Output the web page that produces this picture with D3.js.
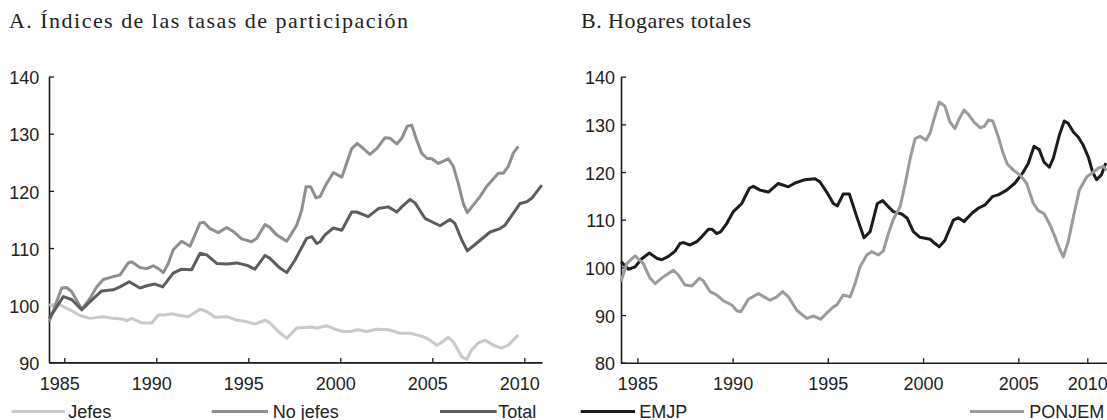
<!DOCTYPE html>
<html><head><meta charset="utf-8">
<script src="https://cdn.jsdelivr.net/npm/d3@7"></script>
<style>body{margin:0;background:#fff}svg{display:block}</style>
</head><body><svg id="c" width="1107" height="420"></svg>
<script>
// ---- tick labels ----
const xTickYears = [1985, 1990, 1995, 2000, 2005, 2010];
const yTicksA = [90, 100, 110, 120, 130, 140];
const yTicksB = [80, 90, 100, 110, 120, 130, 140];

// ---- Panel A: Índices de las tasas de participación ([año, índice]) ----
const jefesA = [[1984.18,100.0],[1984.67,100.2],[1985.31,99.2],[1985.85,98.2],[1986.40,97.7],[1987.12,98.0],[1987.66,97.7],[1988.12,97.6],[1988.39,97.3],[1988.66,97.7],[1989.21,96.9],[1989.75,96.9],[1990.11,98.3],[1990.47,98.3],[1990.84,98.5],[1991.29,98.2],[1991.74,98.0],[1992.38,99.3],[1992.74,98.9],[1993.19,97.9],[1993.83,98.0],[1994.37,97.4],[1994.91,97.1],[1995.36,96.7],[1995.91,97.4],[1996.18,96.9],[1996.63,95.4],[1997.09,94.2],[1997.63,96.0],[1998.45,96.2],[1998.72,96.0],[1999.26,96.4],[1999.71,95.8],[2000.16,95.4],[2000.53,95.4],[2000.98,95.7],[2001.43,95.4],[2001.98,95.8],[2002.61,95.7],[2003.24,95.1],[2003.79,95.1],[2004.51,94.5],[2004.88,93.9],[2005.24,93.0],[2005.42,93.3],[2005.87,94.4],[2006.14,93.6],[2006.60,91.0],[2006.87,90.5],[2007.14,92.2],[2007.50,93.4],[2007.86,93.9],[2008.32,93.0],[2008.77,92.5],[2009.13,93.0],[2009.67,94.8]];
const noJefesA = [[1984.18,97.1],[1984.86,103.0],[1985.13,103.1],[1985.40,102.4],[1985.95,99.3],[1986.40,101.2],[1986.76,103.2],[1987.12,104.5],[1987.66,105.0],[1988.03,105.3],[1988.48,107.4],[1988.66,107.6],[1989.11,106.6],[1989.48,106.4],[1989.84,106.9],[1990.11,106.4],[1990.38,105.7],[1990.65,107.3],[1990.92,109.7],[1991.38,111.2],[1991.83,110.3],[1992.38,114.4],[1992.59,114.5],[1992.92,113.4],[1993.37,112.7],[1993.83,113.6],[1994.18,112.9],[1994.64,111.6],[1995.18,111.1],[1995.46,111.7],[1995.91,114.1],[1996.14,113.7],[1996.54,112.3],[1997.09,111.2],[1997.63,114.0],[1997.90,116.6],[1998.14,120.7],[1998.39,120.7],[1998.68,118.8],[1998.90,119.0],[1999.17,120.8],[1999.62,123.2],[2000.08,122.4],[2000.62,127.4],[2000.92,128.3],[2001.61,126.4],[2001.98,127.4],[2002.43,129.3],[2002.70,129.2],[2003.07,128.2],[2003.34,129.2],[2003.64,131.3],[2003.88,131.5],[2004.15,128.9],[2004.42,126.6],[2004.70,125.7],[2004.97,125.6],[2005.33,124.8],[2005.87,125.6],[2006.14,124.3],[2006.41,121.3],[2006.68,117.8],[2006.90,116.2],[2007.59,119.0],[2007.96,120.8],[2008.59,123.1],[2008.86,123.1],[2009.13,124.3],[2009.40,126.6],[2009.67,127.8]];
const totalA = [[1984.18,97.7],[1984.95,101.5],[1985.40,101.0],[1985.95,99.2],[1986.49,100.9],[1987.03,102.5],[1987.66,102.7],[1988.03,103.2],[1988.53,104.1],[1989.11,103.0],[1989.48,103.4],[1989.93,103.7],[1990.35,103.2],[1990.92,105.6],[1991.38,106.3],[1991.92,106.2],[1992.38,109.1],[1992.74,108.8],[1993.28,107.3],[1993.83,107.2],[1994.37,107.4],[1994.91,107.0],[1995.36,106.3],[1995.91,108.7],[1996.18,108.2],[1996.72,106.5],[1997.09,105.7],[1997.54,107.9],[1998.17,111.7],[1998.45,112.0],[1998.72,110.8],[1998.90,111.1],[1999.17,112.3],[1999.62,113.5],[2000.08,113.1],[2000.62,116.3],[2000.89,116.3],[2001.52,115.5],[2002.07,116.9],[2002.61,117.2],[2003.07,116.3],[2003.34,117.2],[2003.79,118.5],[2004.06,117.9],[2004.60,115.2],[2004.97,114.6],[2005.42,113.9],[2005.96,115.0],[2006.23,114.3],[2006.60,111.4],[2006.90,109.5],[2007.50,111.1],[2008.14,112.8],[2008.68,113.4],[2008.95,114.0],[2009.77,117.8],[2010.13,118.1],[2010.40,118.7],[2010.95,121.0]];

// ---- Panel B: Hogares totales ([año, índice]) ----
const emjpB = [[1984.14,101.2],[1984.53,99.6],[1984.88,100.1],[1985.23,101.8],[1985.63,103.0],[1986.02,101.9],[1986.28,101.6],[1986.63,102.3],[1986.98,103.4],[1987.24,105.0],[1987.41,105.2],[1987.77,104.7],[1988.12,105.4],[1988.38,106.4],[1988.73,108.0],[1988.91,108.0],[1989.17,107.1],[1989.38,107.5],[1989.69,109.2],[1990.04,111.7],[1990.48,113.4],[1990.88,116.6],[1991.09,117.0],[1991.44,116.2],[1991.88,115.8],[1992.40,117.6],[1992.93,116.9],[1993.28,117.7],[1993.80,118.4],[1994.33,118.6],[1994.59,117.9],[1994.94,115.8],[1995.29,113.4],[1995.50,112.9],[1995.81,115.4],[1996.13,115.4],[1996.52,110.6],[1996.90,106.2],[1997.22,107.5],[1997.60,113.4],[1997.88,114.0],[1998.18,112.7],[1998.44,111.7],[1998.88,111.2],[1999.17,110.3],[1999.49,107.5],[1999.84,106.3],[2000.37,105.9],[2000.63,105.0],[2000.85,104.3],[2001.15,105.7],[2001.59,109.9],[2001.85,110.4],[2002.15,109.6],[2002.55,111.3],[2002.90,112.4],[2003.25,113.1],[2003.66,114.9],[2003.95,115.2],[2004.39,116.2],[2004.83,117.7],[2005.36,120.0],[2005.72,121.8],[2006.14,125.4],[2006.52,124.7],[2006.86,122.1],[2007.25,121.0],[2007.54,122.9],[2007.97,127.7],[2008.33,130.7],[2008.62,130.2],[2008.99,128.4],[2009.35,127.3],[2009.71,125.6],[2010.07,123.2],[2010.39,120.0],[2010.68,118.4],[2011.04,119.4],[2011.36,121.9]];
const ponjemB = [[1984.14,97.0],[1984.44,100.8],[1984.88,102.4],[1985.31,100.8],[1985.67,97.7],[1985.93,96.6],[1986.36,98.0],[1986.89,99.4],[1987.15,98.4],[1987.50,96.3],[1987.86,96.1],[1988.25,97.7],[1988.46,97.2],[1988.82,94.9],[1989.17,94.2],[1989.51,93.0],[1989.96,92.1],[1990.22,90.9],[1990.43,90.7],[1990.83,93.3],[1991.35,94.5],[1991.97,93.1],[1992.32,93.8],[1992.63,94.9],[1992.93,93.8],[1993.37,91.0],[1993.89,89.3],[1994.24,89.8],[1994.63,89.1],[1994.94,90.4],[1995.29,91.7],[1995.47,92.1],[1995.81,94.2],[1996.17,93.8],[1996.43,96.6],[1996.69,100.1],[1997.04,102.6],[1997.30,103.3],[1997.65,102.6],[1997.91,103.4],[1998.18,107.1],[1998.44,110.1],[1998.79,112.7],[1999.05,117.3],[1999.32,122.8],[1999.58,127.0],[1999.84,127.5],[2000.16,126.7],[2000.37,128.2],[2000.58,131.2],[2000.85,134.7],[2001.15,133.8],[2001.41,130.5],[2001.67,129.1],[2001.90,131.2],[2002.15,133.0],[2002.38,132.1],[2002.67,130.5],[2002.99,129.3],[2003.22,129.6],[2003.43,130.9],[2003.66,130.7],[2003.95,127.4],[2004.18,124.2],[2004.42,121.7],[2004.74,120.4],[2005.12,119.4],[2005.61,117.6],[2006.09,113.4],[2006.45,111.9],[2006.86,111.3],[2007.30,108.9],[2007.66,106.4],[2007.97,104.0],[2008.26,102.2],[2008.62,105.4],[2008.99,110.6],[2009.42,116.2],[2009.96,119.0],[2010.32,119.7],[2010.80,120.8],[2011.17,121.2],[2011.43,120.4]];

const seriesA = [
  {name: "Jefes", data: jefesA, color: "#c9c9c9"},
  {name: "No jefes", data: noJefesA, color: "#8f8f8f"},
  {name: "Total", data: totalA, color: "#5d5d5d"}
];
const seriesB = [
  {name: "EMJP", data: emjpB, color: "#1c1c1c"},
  {name: "PONJEM", data: ponjemB, color: "#9b9b9b"}
];

const svg = d3.select("#c");
svg.append("rect").attr("width", 1107).attr("height", 420).attr("fill", "#fff");

const xA = d3.scaleLinear().domain([1984.17, 2010.96]).range([49, 542]);
const yA = d3.scaleLinear().domain([90, 140]).range([362.4, 76.5]);
const xB = d3.scaleLinear().domain([1984.14, 2005, 2010, 2011.45]).range([621, 1018.3, 1087.3, 1107]);
const yB = d3.scaleLinear().domain([80, 140]).range([362.7, 76.7]);

function styleAxis(g) {
  g.select(".domain").attr("stroke", "#1a1a1a").attr("stroke-width", 1.6);
  g.selectAll(".tick line").attr("stroke", "#1a1a1a").attr("stroke-width", 1.3);
  g.selectAll(".tick text").attr("fill", "#222").style("font-family", "'Liberation Sans', Arial, sans-serif").style("font-size", "18px");
  g.attr("font-family", null).attr("font-size", null);
}

function panel(x, y, yTicks, series, yPad, xLabelShift) {
  const gx = svg.append("g").attr("transform", `translate(0,${y.range()[0]})`)
    .call(d3.axisBottom(x).tickValues(xTickYears).tickFormat(d3.format("d")).tickSize(-4.5).tickSizeOuter(0).tickPadding(14.8));
  styleAxis(gx);
  gx.selectAll(".tick text").attr("dx", xLabelShift);
  const gy = svg.append("g").attr("transform", `translate(${x.range()[0]},0)`)
    .call(d3.axisLeft(y).tickValues(yTicks).tickSize(-5).tickSizeOuter(0).tickPadding(yPad));
  styleAxis(gy);
  gy.selectAll(".tick text").attr("dy", "0.4em");
  const line = d3.line().x(d => x(d[0])).y(d => y(d[1]));
  series.forEach(s => {
    svg.append("path").datum(s.data).attr("d", line)
      .attr("fill", "none").attr("stroke", s.color).attr("stroke-width", 3)
      .attr("stroke-linejoin", "round").attr("stroke-linecap", "butt");
  });
}

panel(xA, yA, yTicksA, seriesA, 9.7, -5);
panel(xB, yB, yTicksB, seriesB, 6, 0);

// titles
svg.append("text").attr("x", 9).attr("y", 27.5)
  .style("font-family", "'Liberation Serif', 'Times New Roman', serif").style("font-size", "22px").attr("fill", "#222")
  .attr("textLength", 399).attr("lengthAdjust", "spacing")
  .text("A. Índices de las tasas de participación");
svg.append("text").attr("x", 581).attr("y", 27.5)
  .style("font-family", "'Liberation Serif', 'Times New Roman', serif").style("font-size", "22px").attr("fill", "#222")
  .attr("textLength", 170).attr("lengthAdjust", "spacing")
  .text("B. Hogares totales");

// legends
const legendA = [
  {x1: 11.7, x2: 65, tx: 68.3},
  {x1: 211.7, x2: 268, tx: 272.7},
  {x1: 440, x2: 496.7, tx: 498.3}
];
const legendB = [
  {x1: 580.7, x2: 635, tx: 639.3},
  {x1: 970, x2: 1024, tx: 1029.3}
];
function legend(items, series) {
  items.forEach((it, i) => {
    svg.append("line").attr("x1", it.x1).attr("x2", it.x2).attr("y1", 411.5).attr("y2", 411.5)
      .attr("stroke", series[i].color).attr("stroke-width", 3);
    svg.append("text").attr("x", it.tx).attr("y", 417.5).attr("fill", "#222")
      .style("font-family", "'Liberation Sans', Arial, sans-serif").style("font-size", "18px")
      .text(series[i].name);
  });
}
legend(legendA, seriesA);
legend(legendB, seriesB);
</script></body></html>
